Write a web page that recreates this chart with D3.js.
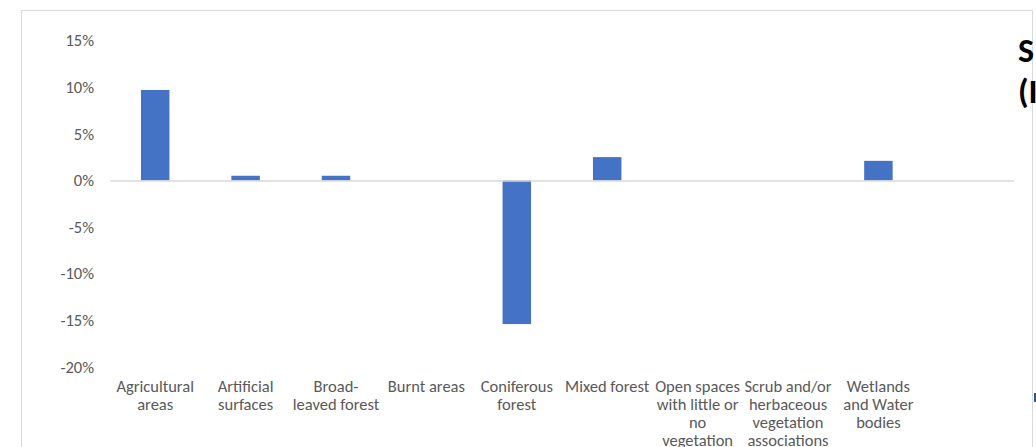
<!DOCTYPE html>
<html lang="en">
<head>
<meta charset="utf-8">
<title>Land cover change</title>
<script src="https://d3js.org/d3.v7.min.js"></script>
<style>
  body { margin: 0; background: #fff; }
  svg { display: block; font-family: Carlito, Lato, sans-serif; }
</style>
</head>
<body>
<svg width="1036" height="447"></svg>
<script>
// categories (label lines as wrapped in the chart) and values in percent
var categories = ["Agricultural areas", "Artificial surfaces", "Broad-leaved forest", "Burnt areas",
  "Coniferous forest", "Mixed forest", "Open spaces with little or no vegetation",
  "Scrub and/or herbaceous vegetation associations", "Wetlands and Water bodies", ""];
var labelLines = [
  ["Agricultural", "areas"],
  ["Artificial", "surfaces"],
  ["Broad-", "leaved forest"],
  ["Burnt areas"],
  ["Coniferous", "forest"],
  ["Mixed forest"],
  ["Open spaces", "with little or", "no", "vegetation"],
  ["Scrub and/or", "herbaceous", "vegetation", "associations"],
  ["Wetlands", "and Water", "bodies"],
  [""]
];
var values = [9.7, 0.5, 0.5, 0, -15.4, 2.5, 0, 0, 2.1, 0];
var yTicks = [15, 10, 5, 0, -5, -10, -15, -20];

var svg = d3.select("svg");

// chart frame (partly cropped)
svg.append("path")
    .attr("d", "M21.5,447V10.5H1032.5V447")
    .attr("fill", "none")
    .attr("stroke", "#d9d9d9");

var x = d3.scaleBand()
    .domain(categories.map(function(d, i) { return i; }))
    .range([110, 1014])
    .paddingInner(0.685)
    .paddingOuter(0.3425);

var y = d3.scaleLinear()
    .domain([-20, 15])
    .range([367, 40.5]);

// y axis labels
var yAxis = d3.axisLeft(y)
    .tickValues(yTicks)
    .tickSize(0)
    .tickPadding(0)
    .tickFormat(function(d) { return d + "%"; });

svg.append("g")
    .attr("transform", "translate(94,0)")
    .call(yAxis)
    .call(function(g) { g.select(".domain").remove(); })
    .selectAll("text")
      .attr("fill", "#595959")
      .attr("font-size", "16.5px")
      .attr("font-family", "Carlito, Lato, sans-serif");

// bars
svg.selectAll(".bar")
  .data(values)
  .enter().append("rect")
    .attr("class", "bar")
    .attr("x", function(d, i) { return x(i); })
    .attr("width", x.bandwidth())
    .attr("y", function(d) { return y(Math.max(0, d)); })
    .attr("height", function(d) { return Math.abs(y(d) - y(0)); })
    .attr("fill", "#4472c4");

// zero line
svg.append("line")
    .attr("x1", 110).attr("x2", 1014)
    .attr("y1", y(0) + 0.5).attr("y2", y(0) + 0.5)
    .attr("stroke", "#d9d9d9")
    .attr("stroke-width", 1.5);

// category labels
var lbl = svg.selectAll(".cat")
  .data(labelLines)
  .enter().append("text")
    .attr("class", "cat")
    .attr("text-anchor", "middle")
    .attr("fill", "#595959")
    .attr("font-size", "16.5px");

lbl.selectAll("tspan")
  .data(function(d, i) { return d.map(function(t) { return {t: t, i: i}; }); })
  .enter().append("tspan")
    .attr("x", function(d) { return x(d.i) + x.bandwidth() / 2; })
    .attr("y", function(d, j) { return 391.5 + j * 18; })
    .text(function(d) { return d.t; });

// cropped title of neighbouring element
svg.append("text")
    .attr("x", 1018).attr("y", 62)
    .attr("font-size", "34px").attr("font-weight", "bold")
    .attr("fill", "#000")
    .text("S");
svg.append("text")
    .attr("x", 1018).attr("y", 103)
    .attr("font-size", "34px").attr("font-weight", "bold")
    .attr("fill", "#000")
    .text("(I");

// cropped marker at right edge
svg.append("rect")
    .attr("x", 1034).attr("y", 393)
    .attr("width", 3).attr("height", 9)
    .attr("fill", "#2f5597");
</script>
</body>
</html>
